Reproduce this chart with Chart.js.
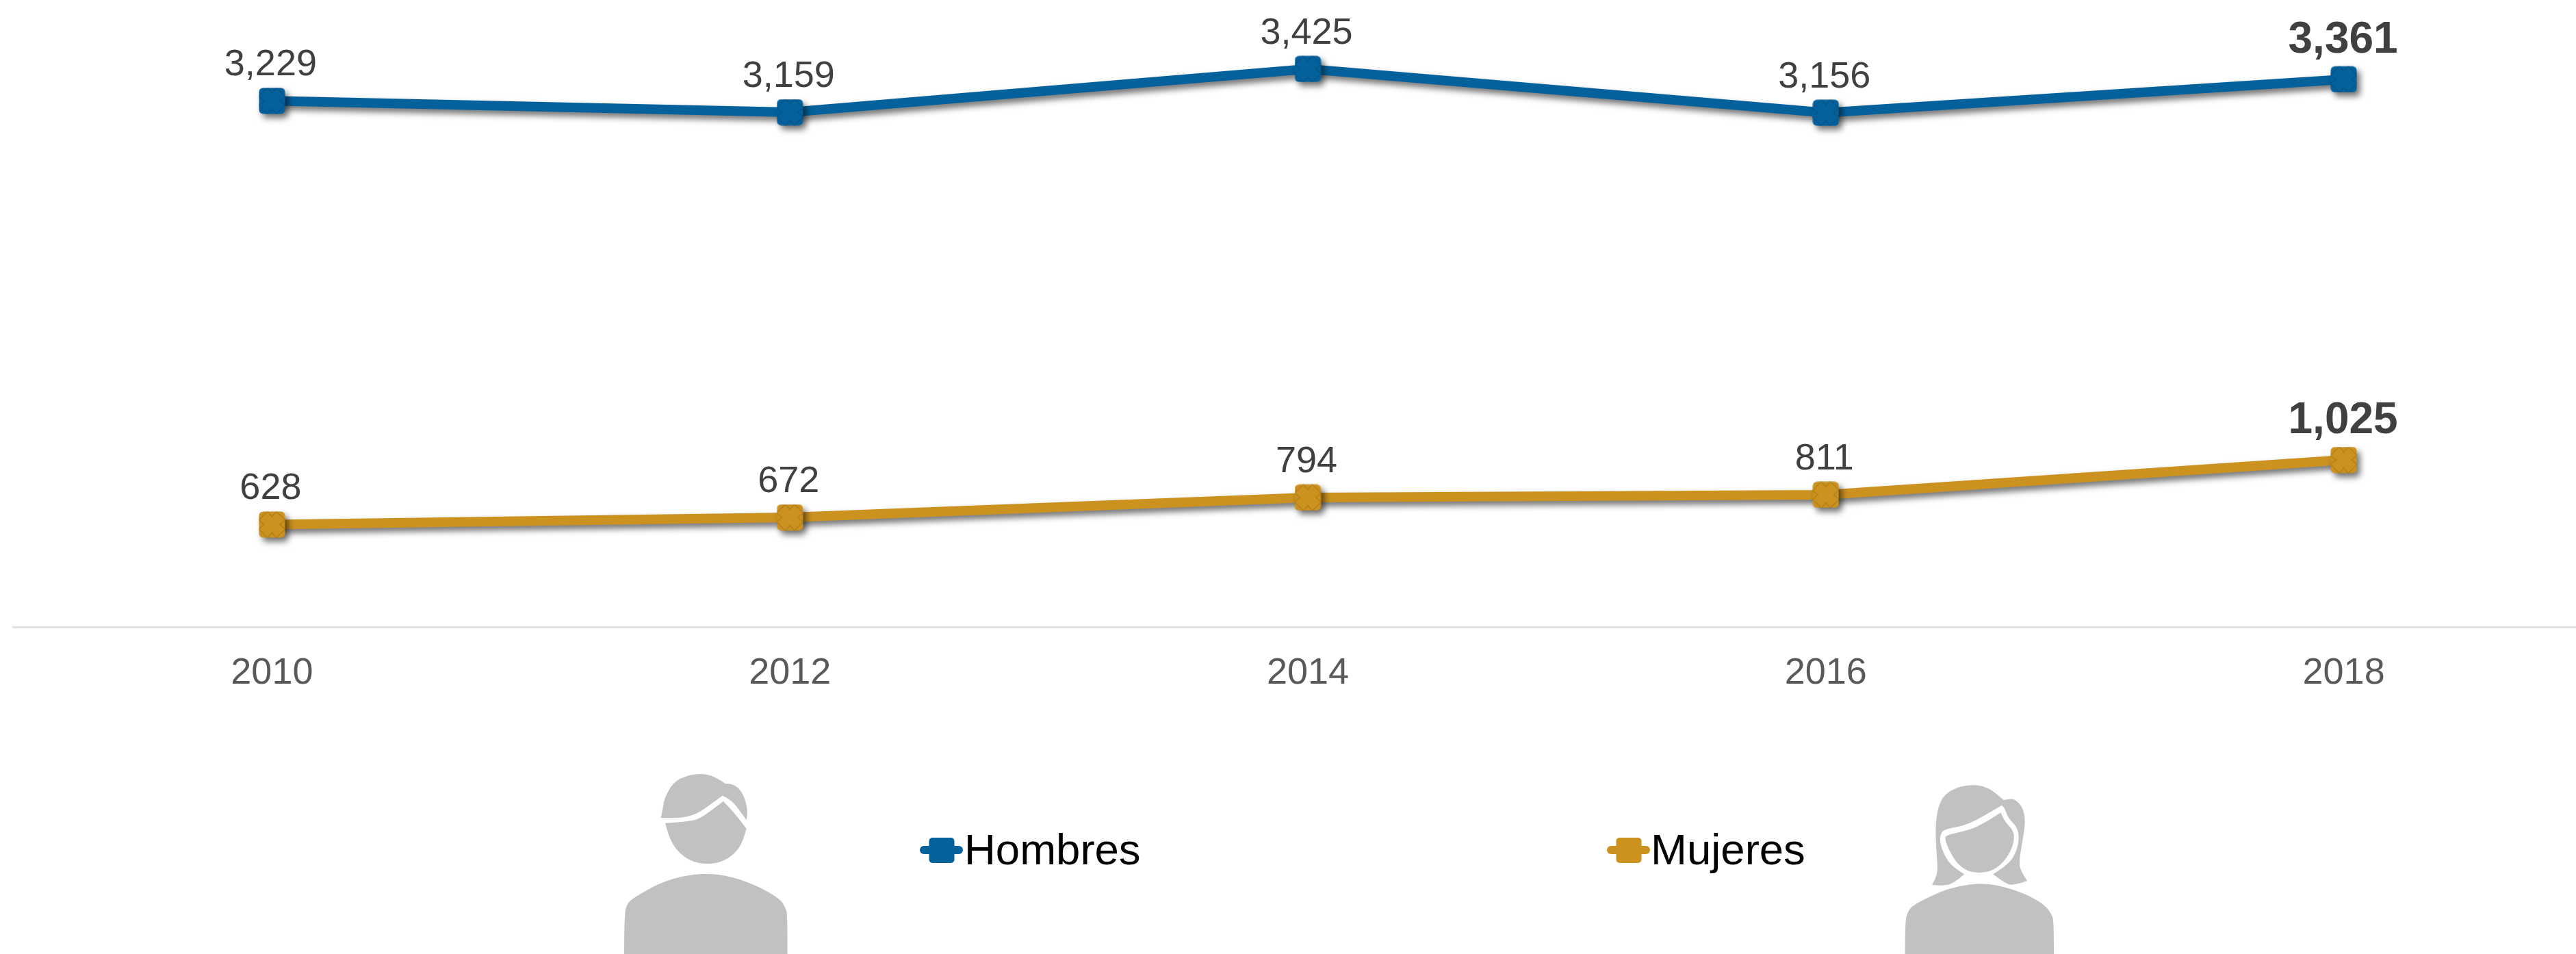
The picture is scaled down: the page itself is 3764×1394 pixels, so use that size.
<!DOCTYPE html>
<html><head><meta charset="utf-8">
<style>html,body{margin:0;padding:0;background:#fff;overflow:hidden;width:3764px;height:1394px}canvas{display:block}</style>
<script src="https://cdn.jsdelivr.net/npm/chart.js@4"></script>
</head><body><canvas id="c" width="3803" height="1394"></canvas>
<script>
const years = ['2010','2012','2014','2016','2018'];
const hombres = [3229,3159,3425,3156,3361];
const mujeres = [628,672,794,811,1025];
const BLUE='#04619C', GOLD='#CC9220';
const FONT='"Liberation Sans", Arial, sans-serif';

function marker(col,dark){
  const s=39,c=document.createElement('canvas');c.width=c.height=s;const g=c.getContext('2d');
  g.beginPath();g.roundRect(0.5,0.5,s-1,s-1,6);g.fillStyle=col;g.fill();g.save();g.clip();
  g.strokeStyle=dark;g.lineWidth=1.2;g.globalAlpha=.5;
  const a=[[13,0],[19.5,8],[26,0],[39,13],[31,19.5],[39,26],[26,39],[19.5,31],[13,39],[0,26],[8,19.5],[0,13]];
  g.beginPath();a.forEach((p,i)=>i?g.lineTo(p[0],p[1]):g.moveTo(p[0],p[1]));g.closePath();g.stroke();g.restore();
  return c;
}
// closed outline through control points; a third element marks a sharp corner
function outline(g,p){
  const n=p.length, mid=(a,b)=>[(a[0]+b[0])/2,(a[1]+b[1])/2];
  g.moveTo(p[0][0],p[0][1]);
  for(let i=1;i<=n;i++){
    const c=p[i%n], nx=p[(i+1)%n];
    if(c[2]){g.lineTo(c[0],c[1]);continue;}
    const e=nx[2]?nx:mid(c,nx);
    g.quadraticCurveTo(c[0],c[1],e[0],e[1]);
    if(nx[2])i++;
  }
  g.closePath();
}
// icon outlines, measured on crops of the reference
const manXY=p=>[840+p[0]/1.568,1080+p[1]/3,p[2]];
const womanXY=p=>[2300+p[0]/1.96,1080+p[1]/3,p[2]];
const manBody=[[113,942,1],[113,770],[120,720],[135,695],[190,635],[240,603],[300,587],[360,603],[420,645],[470,700],[483,740],[487,770],[487,942,1]].map(manXY);
const manHair=[[197,345,1],[202,300],[205,260],[225,190],[255,160],[290,150],[320,163],[345,195,1],[358,195],[375,213],[388,250],[397,320],[393,355,1],[375,305],[355,262],[338,248,1],[315,280],[285,322],[260,340],[230,347]].map(manXY);
const manFace=[[207,368,1],[265,362],[295,340],[340,272,1],[365,320],[393,392,1],[385,452],[365,505],[335,540],[300,549],[265,535],[235,492],[215,430]].map(manXY);
const womanBody=[[948,942,1],[948,800],[955,758],[970,728],[1050,667],[1100,645],[1160,632],[1220,642],[1290,677],[1345,722],[1368,768],[1374,800],[1374,942,1]].map(womanXY);
const womanHair=[[1230,267,1],[1200,226],[1170,205],[1140,200],[1100,209],[1060,243],[1042,300],[1035,380],[1037,480],[1042,570],[1035,615],[1025,640,1],[1060,643],[1090,630],[1118,592,1],[1085,562],[1060,510],[1047,450],[1051,408],[1065,394],[1120,378],[1170,340],[1225,290,1],[1233,300],[1240,335],[1252,360],[1268,385],[1275,430],[1268,490],[1245,550],[1200,592,1],[1235,634],[1260,641],[1298,622,1],[1280,580],[1274,540],[1285,440],[1293,360],[1285,298],[1262,263],[1245,262]].map(womanXY);
const womanFace=[[1065,420],[1120,405],[1175,370],[1222,322,1],[1232,360],[1255,395],[1262,430],[1252,490],[1225,548],[1195,578],[1160,588],[1125,578],[1095,542],[1075,490],[1062,440]].map(womanXY);

const decor={id:'decor',
  beforeDatasetDraw(ch){const g=ch.ctx;g.save();g.shadowColor='rgba(0,0,0,.55)';g.shadowBlur=10;g.shadowOffsetX=5;g.shadowOffsetY=6;},
  afterDatasetDraw(ch){ch.ctx.restore();},
  afterDraw(ch){
    const g=ch.ctx;g.save();
    g.textAlign='center';g.textBaseline='middle';
    ch.data.datasets.forEach((ds,di)=>{
      const meta=ch.getDatasetMeta(di);
      ds.data.forEach((v,i)=>{
        const pt=meta.data[i],last=i===ds.data.length-1;
        g.font=(last?'bold 64px ':'54px ')+FONT;g.fillStyle='#404040';
        g.fillText(v.toLocaleString('en-US'),pt.x-(last?1:2),pt.y-(last?57:52));
      });
    });
    const leg=[[1376,1413],[2380,2416]];
    ch.data.datasets.forEach((ds,di)=>{
      const [cx,tx]=leg[di];
      g.fillStyle=ds.borderColor;
      g.beginPath();g.roundRect(cx-32,1236,63,12,6);g.fill();
      g.beginPath();g.roundRect(cx-18.5,1224,37,37,5);g.fill();
      g.fillStyle='#000';g.textAlign='left';g.textBaseline='alphabetic';g.font='63.5px '+FONT;
      g.fillText(ds.label,tx-4,1263);
    });
    g.fillStyle='#C1C1C1';
    [manBody,manHair,manFace,womanBody,womanHair,womanFace].forEach(p=>{g.beginPath();outline(g,p);g.fill();});
    g.restore();
  }};

Chart.defaults.font.family=FONT;
new Chart(document.getElementById('c'),{
  type:'line',
  data:{labels:years,datasets:[
    {label:'Hombres',data:hombres,borderColor:BLUE,backgroundColor:BLUE,borderWidth:14,tension:0,clip:false,
     pointStyle:marker(BLUE,'#03456f'),pointRadius:19.5,pointHoverRadius:19.5},
    {label:'Mujeres',data:mujeres,borderColor:GOLD,backgroundColor:GOLD,borderWidth:14,tension:0,clip:false,
     pointStyle:marker(GOLD,'#8f6512'),pointRadius:19.5,pointHoverRadius:19.5}
  ]},
  options:{responsive:false,animation:false,devicePixelRatio:1,
    layout:{autoPadding:false,padding:{left:19,right:0,top:0,bottom:0}},
    plugins:{legend:{display:false},tooltip:{enabled:false}},
    scales:{
      x:{type:'category',offset:true,grid:{display:false,drawTicks:false},
         border:{display:true,color:'#E2E2E2',width:3},
         ticks:{color:'#595959',font:{size:54,family:FONT},padding:36,maxRotation:0,autoSkip:false},
         afterFit(s){s.height=1394-916;}},
      y:{display:false,min:0,max:3848}
    }
  },
  plugins:[decor]
});
</script></body></html>
